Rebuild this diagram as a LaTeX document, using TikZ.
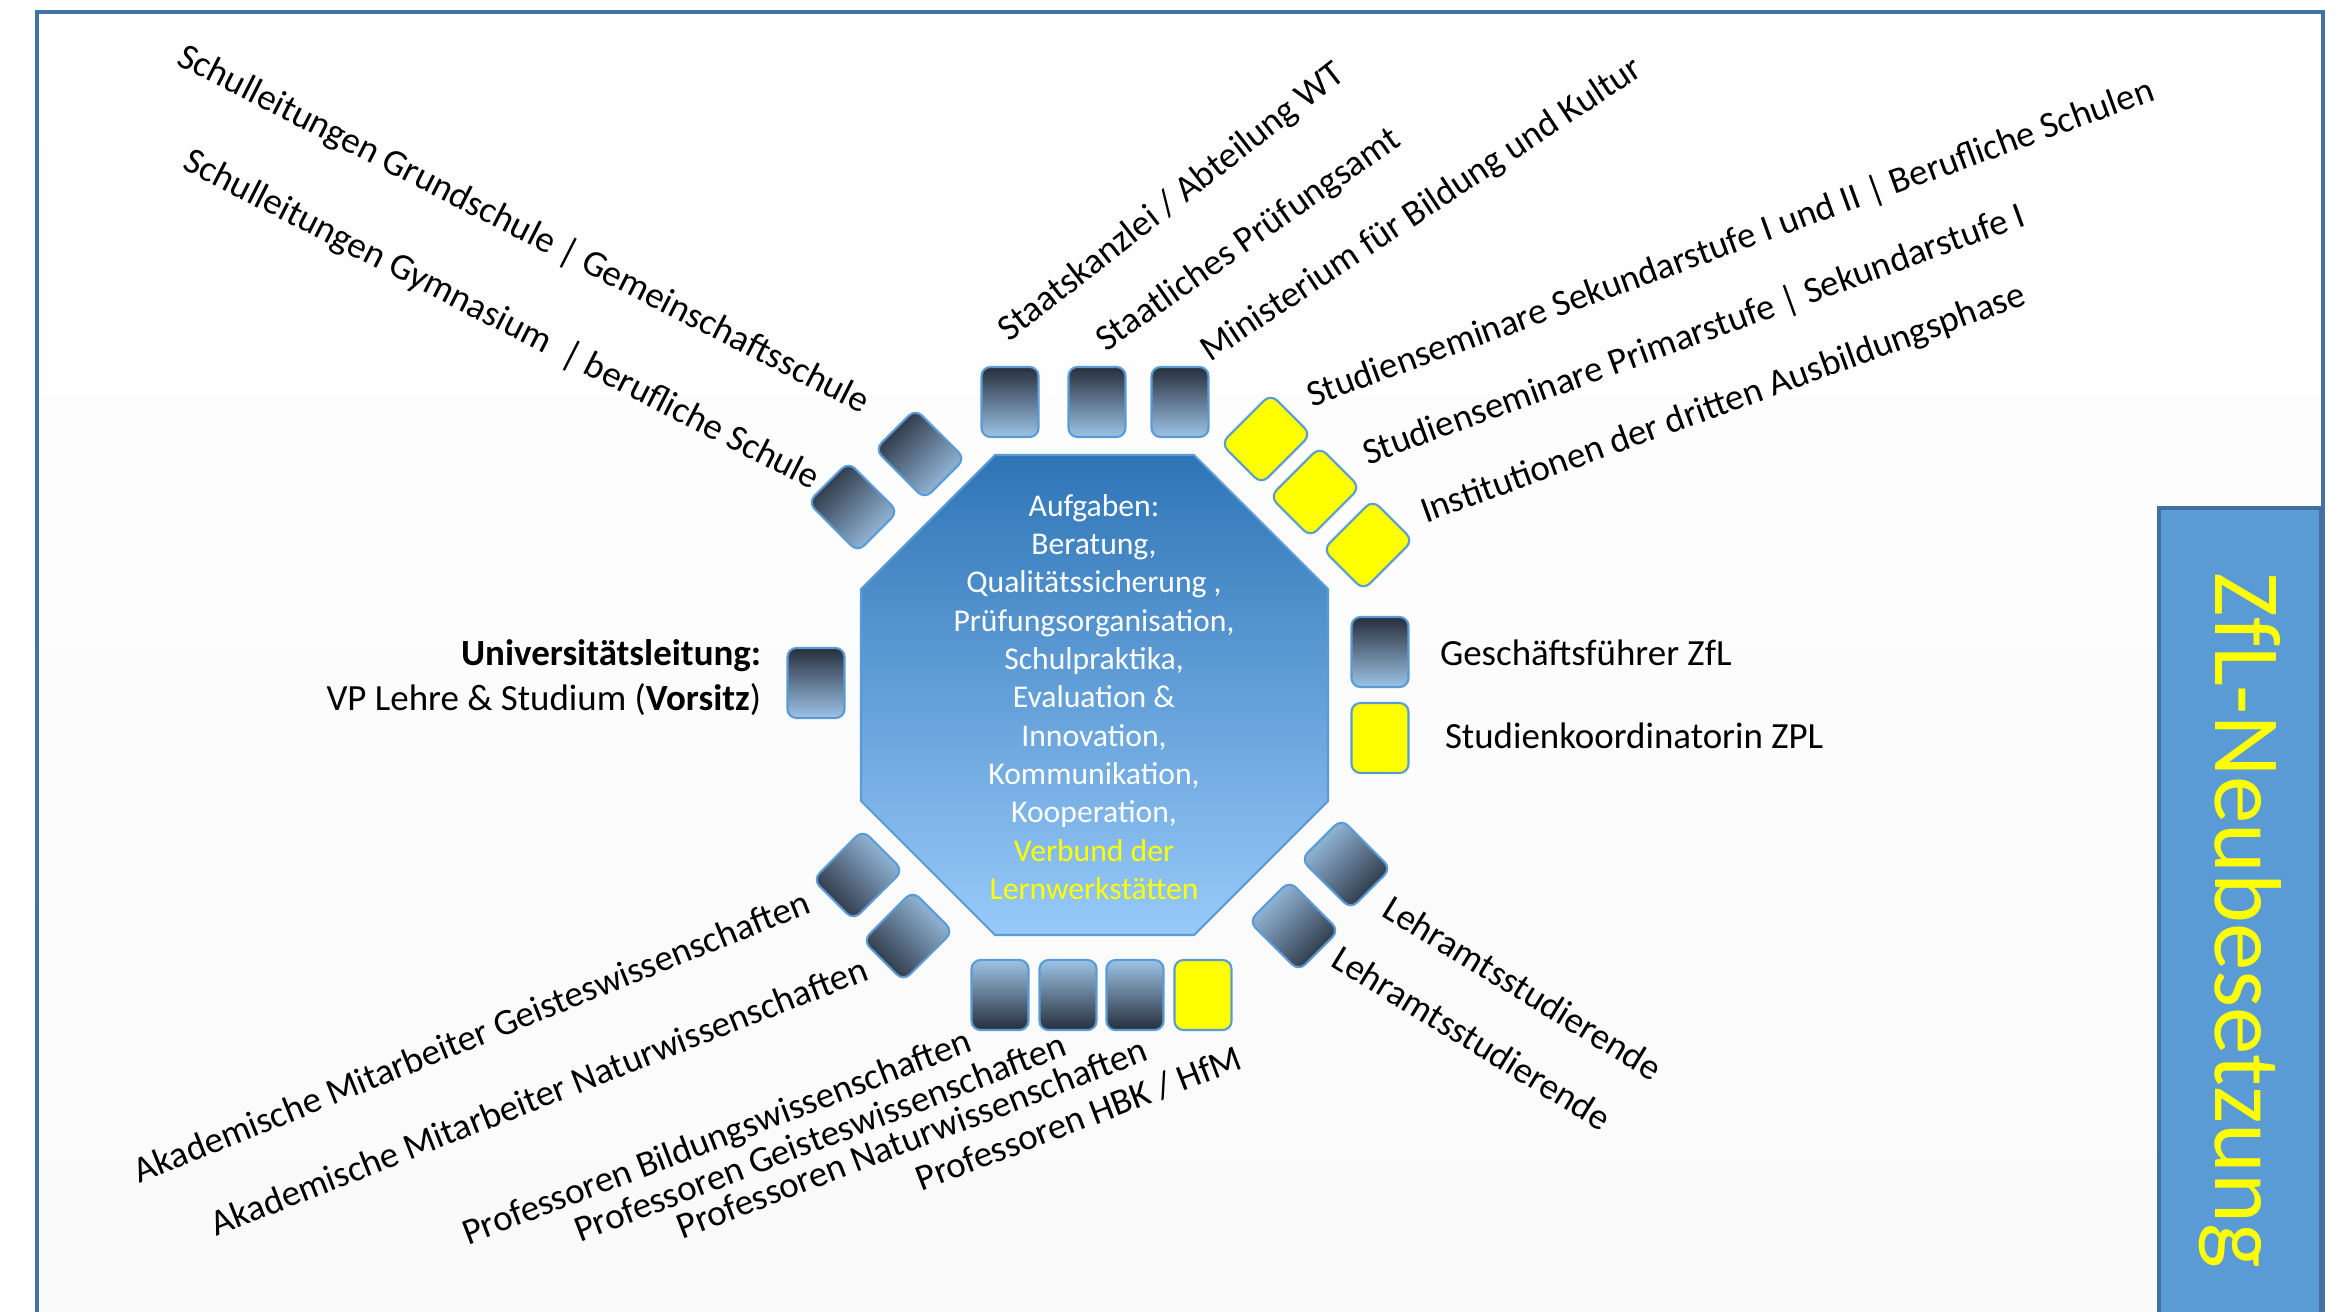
\documentclass[tikz,border=0pt]{standalone}
\usepackage{fontspec}
\setmainfont{Carlito}
\usetikzlibrary{positioning}
\definecolor{framecol}{RGB}{68,114,166}
\definecolor{boxdark}{RGB}{38,46,60}
\definecolor{boxlight}{RGB}{157,195,230}
\definecolor{boxline}{RGB}{91,155,213}
\definecolor{octtop}{RGB}{46,117,182}
\definecolor{octbot}{RGB}{152,202,250}
\definecolor{panelfill}{RGB}{91,155,213}
\definecolor{panelline}{RGB}{65,113,156}
\definecolor{signal}{RGB}{255,255,0}
\tikzset{
    every picture/.style = {x = 0.01cm, y = -0.01cm},
    seat/.style = {
        draw = boxline,
        line width = 0.6pt,
        rounded corners = 0.09cm,
        minimum width = 0.57cm,
        minimum height = 0.70cm,
        inner sep = 0pt,
        outer sep = 0pt
    },
    member/.style = {
        seat,
        top color = boxdark,
        middle color = boxlight!72!boxdark,
        bottom color = boxlight,
        rotate = #1,
        shading angle = #1
    },
    member/.default = 0,
    office/.style = {seat, fill = signal},
    caption/.style = {
        inner sep = 0pt,
        outer sep = 0pt,
        font = \fontsize{10.5}{12.8}\selectfont
    }
}

\begin{document}
\begin{tikzpicture}
    \useasboundingbox (0, 0) rectangle (2341, 1312);
    \shade[top color = white, bottom color = black!2] (37, 12) rectangle (2323, 1312);
    \draw[framecol, line width = 1.2pt] (37, 1330) -- (37, 12) -- (2323, 12) -- (2323, 1330);

    % centre
    \shade[top color = octtop, bottom color = octbot, draw = boxline, line width = 0.6pt]
        (995, 455) -- (1194, 455) -- (1328, 589) -- (1328, 801) -- (1194, 935)
        -- (995, 935) -- (861, 801) -- (861, 589) -- cycle;
    \node[align = center, text = white, inner sep = 0pt, font = \fontsize{9}{10.9}\selectfont] (tasks) at (1094, 697)
        {Aufgaben:\\ Beratung,\\ Qualitätssicherung ,\\ Prüfungsorganisation,\\ Schulpraktika,\\
         Evaluation \&\\ Innovation,\\ Kommunikation,\\ Kooperation,\\
         \textcolor{signal}{Verbund der}\\ \textcolor{signal}{Lernwerkstätten}};

    % seats
    \node[member] (kanzlei) at (1010, 402) {};
    \node[member] (pruefamt) at (1097, 402) {};
    \node[member] (minist) at (1180, 402) {};
    \node[member = 45] (grund) at (920, 454) {};
    \node[member = 45] (gym) at (853, 507) {};
    \node[office, rotate = -45] (sekund) at (1266, 439) {};
    \node[office, rotate = -45] (primar) at (1315, 492) {};
    \node[office, rotate = -45] (dritte) at (1368, 545) {};
    \node[member] (uni) at (816, 683) {};
    \node[member] (gf) at (1380, 652) {};
    \node[office] (koord) at (1380, 738) {};
    \node[member = 135] (akgeist) at (858, 875) {};
    \node[member = 135] (aknatur) at (908, 936) {};
    \node[member = -135] (stud1) at (1346, 864) {};
    \node[member = -135] (stud2) at (1294, 926) {};
    \node[member = 180] (profbild) at (1000, 995) {};
    \node[member = 180] (profgeist) at (1068, 995) {};
    \node[member = 180] (profnatur) at (1135, 995) {};
    \node[office] (profhbk) at (1203, 995) {};

    % labels
    \node[caption, anchor = base east, rotate = -27] (grundtxt) at (862, 414) {Schulleitungen Grundschule | Gemeinschaftsschule};
    \node[caption, anchor = base east, rotate = -27] (gymtxt) at (812, 490) {Schulleitungen Gymnasium~ | berufliche Schule};
    \node[caption, anchor = base west, rotate = 38] (kanzleitxt) at (1009, 342) {Staatskanzlei / Abteilung WT};
    \node[caption, anchor = base west, rotate = 35] (pruefamttxt) at (1106, 352) {Staatliches Prüfungsamt};
    \node[caption, anchor = base west, rotate = 33.5] (ministtxt) at (1210, 362) {Ministerium für Bildung und Kultur};
    \node[caption, anchor = base west, rotate = 20] (sekundtxt) at (1312, 407) {Studienseminare Sekundarstufe I und II | Berufliche Schulen};
    \node[caption, anchor = base west, rotate = 20] (primartxt) at (1368, 465) {Studienseminare Primarstufe | Sekundarstufe I};
    \node[caption, anchor = base west, rotate = 20] (drittetxt) at (1426, 523) {Institutionen der dritten Ausbildungsphase};
    \node[caption, anchor = base east] (unihead) at (761, 665) {\textbf{Universitätsleitung:}};
    \node[caption, anchor = base east] (unisub) at (761, 710) {VP Lehre \& Studium (\textbf{Vorsitz})};
    \node[caption, anchor = base west] (gftxt) at (1440, 665) {Geschäftsführer ZfL};
    \node[caption, anchor = base west] (koordtxt) at (1445, 748) {Studienkoordinatorin ZPL};
    \node[caption, anchor = base west, rotate = -31.5] (stud1txt) at (1380, 915) {Lehramtsstudierende};
    \node[caption, anchor = base west, rotate = -31.5] (stud2txt) at (1329, 965) {Lehramtsstudierende};
    \node[caption, anchor = base east, rotate = 22] (akgeisttxt) at (812, 912) {Akademische Mitarbeiter Geisteswissenschaften};
    \node[caption, anchor = base east, rotate = 21.5] (aknaturtxt) at (870, 979) {Akademische Mitarbeiter Naturwissenschaften};
    \node[caption, anchor = base east, rotate = 21] (profbildtxt) at (974, 1051) {Professoren Bildungswissenschaften};
    \node[caption, anchor = base east, rotate = 21] (profgeisttxt) at (1069, 1055) {Professoren Geisteswissenschaften};
    \node[caption, anchor = base east, rotate = 21] (profnaturtxt) at (1150, 1060) {Professoren Naturwissenschaften};
    \node[caption, anchor = base east, rotate = 21] (profhbktxt) at (1244, 1068) {Professoren HBK / HfM};

    % panel
    \draw[fill = panelfill, draw = panelline, line width = 1pt] (2159, 508) rectangle (2321, 1330);
    \node[anchor = base west, rotate = -90, text = signal, inner sep = 0pt, font = \fontsize{27}{32}\selectfont] (neu) at (2215, 572) {ZfL-Neubesetzung};
\end{tikzpicture}
\end{document}
